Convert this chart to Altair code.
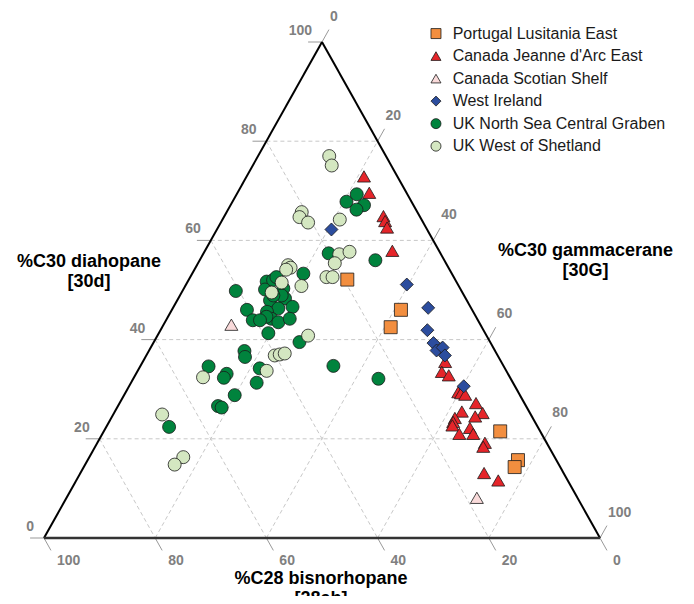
import altair as alt
import pandas as pd

# ---------------- data (percentages) ----------------
series = ["Portugal Lusitania East", "Canada Jeanne d'Arc East", "Canada Scotian Shelf",
          "West Ireland", "UK North Sea Central Graben", "UK West of Shetland"]
colors = ["#F28E3F", "#E5252A", "#F9DADA", "#2C4D9E", "#00833D", "#D4E7C1"]
shapes = ["square", "triangle-up", "triangle-up", "diamond", "circle", "circle"]
sizes = [169, 169, 169, 160, 150, 150]

# %C30 diahopane [30d]
portugal_30d = [52.1, 46.0, 42.5, 21.5, 15.7, 14.3]
# %C30 gammacerane [30G]
portugal_30G = [28.5, 41.2, 41.1, 71.3, 77.4, 77.5]

jda_30d = [72.9, 69.6, 64.9, 63.9, 62.6, 57.9, 38.4, 35.5, 33.5, 32.8, 29.4, 29.2, 28.9, 27.2,
           25.5, 25.2, 24.5, 24.2, 23.4, 22.7, 22.2, 21.0, 21.0, 19.2, 18.4, 13.1, 11.6]
jda_30G = [21.1, 23.7, 28.6, 29.4, 30.4, 33.7, 52.3, 54.4, 54.8, 56.4, 59.8, 60.4, 61.3, 64.1,
           62.4, 66.3, 65.3, 61.8, 61.9, 62.1, 65.5, 64.2, 66.7, 69.7, 69.8, 72.6, 75.9]

scotian_30d = [43.0, 8.1]
scotian_30G = [12.2, 73.8]

ireland_30d = [62.2, 51.1, 46.4, 41.9, 39.3, 37.8, 38.4, 36.8, 30.6]
ireland_30G = [20.6, 39.7, 45.9, 48.0, 50.4, 51.7, 52.5, 53.7, 60.2]

northsea_30d = [67.8, 69.3, 67.1, 66.2, 57.4, 56.0, 53.3, 49.8, 51.7, 50.1, 52.0, 50.3, 48.3, 47.9,
                46.3, 46.6, 45.6, 46.0, 43.9, 44.2, 43.5, 44.2, 41.3, 44.6, 43.9, 39.5, 37.7, 36.5,
                34.6, 33.1, 32.3, 34.2, 31.3, 28.8, 26.6, 26.3, 34.7, 32.1, 22.4, 52.6, 48.9, 48.9]
northsea_30G = [20.5, 21.6, 24.0, 23.1, 22.5, 31.6, 20.0, 9.6, 14.2, 14.7, 15.2, 17.9, 19.2, 16.7,
                19.0, 21.4, 17.3, 13.5, 15.6, 18.8, 20.4, 22.1, 19.7, 17.7, 16.9, 26.2, 17.2, 17.9,
                12.3, 16.3, 16.2, 21.7, 22.6, 19.9, 18.0, 18.8, 34.7, 44.1, 11.3, 15.5, 18.3, 16.8]

shetland_30d = [77.0, 75.1, 65.7, 64.7, 63.6, 64.2, 57.2, 57.7, 55.4, 52.6, 52.6, 55.0, 54.5,
                54.1, 50.8, 51.5, 49.5, 40.8, 36.8, 37.0, 37.2, 32.4, 33.7, 24.9, 16.3, 14.8]
shetland_30G = [12.8, 14.2, 13.5, 13.6, 15.7, 21.1, 24.5, 26.1, 24.6, 24.5, 25.6, 16.4, 17.1,
                16.5, 20.9, 17.0, 16.2, 27.1, 23.1, 23.9, 24.7, 12.4, 23.2, 8.8, 16.9, 16.1]

tick_values = [0, 20, 40, 60, 80, 100]
grid_values = [20, 40, 60, 80]

FONT = "Liberation Sans"

# ---------------- tables ----------------
groups = [(portugal_30d, portugal_30G), (jda_30d, jda_30G), (scotian_30d, scotian_30G),
          (ireland_30d, ireland_30G), (northsea_30d, northsea_30G), (shetland_30d, shetland_30G)]
rows = []
for name, (dl, gl) in zip(series, groups):
    for d, g in zip(dl, gl):
        rows.append({"series": name, "d30": d, "g30": g, "ab28": round(100 - d - g, 1)})
pts = pd.DataFrame(rows)


def tx(d, g):
    return g + d / 2.0


def seg(d1, g1, d2, g2, **kw):
    r = {"x": tx(d1, g1), "y": d1, "x2": tx(d2, g2), "y2": d2}
    r.update(kw)
    return r


grid = []
for v in grid_values:
    grid.append(seg(v, 0, v, 100 - v))            # constant 30d
    grid.append(seg(100 - v, 0, 0, 100 - v))      # constant 28ab
    grid.append(seg(0, v, 100 - v, v))            # constant 30G
grid = pd.DataFrame(grid)

T = 2.5
ticks = []
lab_left, lab_bottom, lab_right = [], [], []
for v in tick_values:
    ticks.append(seg(v, 0, v, -T))
    lab_left.append({"x": tx(v, -T), "y": v, "t": str(v)})
    ticks.append(seg(0, 100 - v, -T, 100 - v + T))
    lab_bottom.append({"x": tx(-T, 100 - v + T), "y": -T, "t": str(v)})
    ticks.append(seg(100 - v, v, 100 - v + T, v))
    lab_right.append({"x": tx(100 - v + T, v), "y": 100 - v + T, "t": str(v)})
ticks = pd.DataFrame(ticks)

edges = pd.DataFrame([
    seg(0, 0, 100, 0, side="left"),
    seg(100, 0, 0, 100, side="right"),
    seg(0, 0, 0, 100, side="bottom"),
])

xs = alt.Scale(domain=[0, 100], nice=False, zero=False)
ys = alt.Scale(domain=[0, 100], nice=False, zero=False)


def rules(df, **mk):
    return alt.Chart(df).mark_rule(**mk).encode(
        x=alt.X("x:Q", scale=xs, axis=None), y=alt.Y("y:Q", scale=ys, axis=None),
        x2="x2:Q", y2="y2:Q")


grid_layer = rules(grid, color="#c8c8c8", strokeWidth=1, strokeDash=[4, 3])
tick_layer = rules(ticks, color="#999999", strokeWidth=1)
edge_lr = rules(edges[edges.side != "bottom"], color="#000000", strokeWidth=2)
edge_b = rules(edges[edges.side == "bottom"], color="#333333", strokeWidth=2.6)


def labels(data, align, dx, dy):
    return alt.Chart(pd.DataFrame(data)).mark_text(
        align=align, baseline="middle", dx=dx, dy=dy, fontSize=14, fontWeight="bold",
        color="#808080", font=FONT).encode(
        x=alt.X("x:Q", scale=xs, axis=None), y=alt.Y("y:Q", scale=ys, axis=None), text="t:N")


lab_l = labels(lab_left, "right", 4, -11)
lab_b = labels(lab_bottom, "left", 6, 11)
lab_r = labels(lab_right, "left", 1, -13)

color_scale = alt.Scale(domain=series, range=colors)
shape_scale = alt.Scale(domain=series, range=shapes)

points = alt.Chart(pts).transform_calculate(
    px="datum.g30 + datum.d30 / 2", py="datum.d30"
).mark_point(filled=True, stroke="#1a1a1a", strokeWidth=0.8, opacity=1).encode(
    x=alt.X("px:Q", scale=xs, axis=None),
    y=alt.Y("py:Q", scale=ys, axis=None),
    color=alt.Color("series:N", scale=color_scale, legend=None),
    shape=alt.Shape("series:N", scale=shape_scale, legend=None),
    size=alt.Size("series:N", scale=alt.Scale(domain=series, range=sizes), legend=None),
)

# manual legend (positions in plot units)
leg = pd.DataFrame({"series": series, "row": list(range(len(series)))})
leg_base = alt.Chart(leg).transform_calculate(ly="101.7 - datum.row * 4.54")
leg_sym = leg_base.mark_point(filled=True, stroke="#1a1a1a", strokeWidth=0.8, opacity=1,
                              size=100).encode(
    x=alt.X("lx:Q", scale=xs, axis=None),
    y=alt.Y("ly:Q", scale=ys, axis=None),
    color=alt.Color("series:N", scale=color_scale, legend=None),
    shape=alt.Shape("series:N", scale=shape_scale, legend=None),
).transform_calculate(lx="70.5")
leg_txt = leg_base.mark_text(align="left", baseline="middle", fontSize=16, font=FONT,
                             color="#1a1a1a").encode(
    x=alt.X("lx:Q", scale=xs, axis=None),
    y=alt.Y("ly:Q", scale=ys, axis=None),
    text="series:N",
).transform_calculate(lx="73.5")


def title(lines, x, y):
    return alt.Chart(pd.DataFrame({"t": [lines]})).mark_text(
        align="center", baseline="middle", fontSize=18, fontWeight="bold", font=FONT,
        color="#000000", lineHeight=20).encode(
        x=alt.value(x), y=alt.value(y), text="t")


t_left = title(["%C30 diahopane", "[30d]"], 45, 220)
t_right = title(["%C30 gammacerane", "[30G]"], 541.5, 209)
t_bottom = title(["%C28 bisnorhopane", "[28ab]"], 277, 537)

chart = alt.layer(
    grid_layer, tick_layer, edge_lr, edge_b, lab_l, lab_b, lab_r,
    points, leg_sym, leg_txt, t_left, t_right, t_bottom
).properties(
    width=556, height=496,
    autosize=alt.AutoSizeParams(type="none"),
    padding={"left": 36, "top": 34, "right": 86, "bottom": 58},
).configure_view(stroke=None)

chart.save("out.html", embed_options={"renderer": "svg", "actions": False})
